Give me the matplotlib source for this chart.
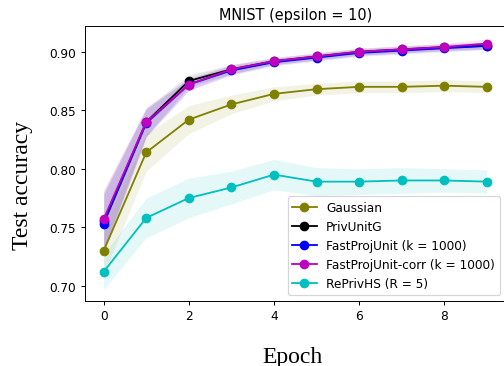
import matplotlib
matplotlib.use("Agg")
import matplotlib.pyplot as plt

# epochs
epochs = [0, 1, 2, 3, 4, 5, 6, 7, 8, 9]

# mean test accuracy per method
gaussian = [0.730, 0.814, 0.842, 0.855, 0.864, 0.868, 0.870, 0.870, 0.871, 0.870]
privunitg = [0.755, 0.840, 0.875, 0.885, 0.892, 0.896, 0.900, 0.902, 0.904, 0.905]
fastproj = [0.753, 0.839, 0.872, 0.884, 0.891, 0.895, 0.899, 0.901, 0.903, 0.905]
fastproj_corr = [0.757, 0.840, 0.872, 0.885, 0.892, 0.896, 0.900, 0.902, 0.904, 0.907]
reprivhs = [0.712, 0.758, 0.775, 0.784, 0.795, 0.789, 0.789, 0.790, 0.790, 0.789]

# spread (std) per method
gaussian_std = [0.020, 0.016, 0.012, 0.008, 0.006, 0.005, 0.005, 0.005, 0.005, 0.005]
privunitg_std = [0.025, 0.012, 0.005, 0.004, 0.003, 0.003, 0.003, 0.003, 0.003, 0.003]
fastproj_std = [0.025, 0.012, 0.005, 0.004, 0.003, 0.003, 0.003, 0.003, 0.003, 0.003]
fastproj_corr_std = [0.025, 0.012, 0.005, 0.004, 0.003, 0.003, 0.003, 0.003, 0.003, 0.004]
reprivhs_std = [0.015, 0.017, 0.017, 0.014, 0.013, 0.012, 0.011, 0.011, 0.010, 0.010]

series = [
    ("Gaussian", gaussian, gaussian_std, "olive"),
    ("PrivUnitG", privunitg, privunitg_std, "k"),
    ("FastProjUnit (k = 1000)", fastproj, fastproj_std, "b"),
    ("FastProjUnit-corr (k = 1000)", fastproj_corr, fastproj_corr_std, "m"),
    ("RePrivHS (R = 5)", reprivhs, reprivhs_std, "c"),
]

dpi = 87
fig = plt.figure(figsize=(504 / dpi, 367 / dpi), dpi=dpi)
ax = fig.add_axes([84.5 / 504, 1 - 302 / 367, 421.5 / 504, 275 / 367])

for name, mean, std, color in series:
    lo = [m - s for m, s in zip(mean, std)]
    hi = [m + s for m, s in zip(mean, std)]
    ax.fill_between(epochs, lo, hi, color=color, alpha=0.1, linewidth=0)
    ax.plot(epochs, mean, "o-", color=color, label=name, markersize=7)

ax.set_xlim(-0.45, 9.45)
ax.set_ylim(0.687, 0.922)
ax.set_xticks([0, 2, 4, 6, 8])
ax.set_yticks([0.70, 0.75, 0.80, 0.85, 0.90])

ax.set_title("MNIST (epsilon = 10)")
ax.set_xlabel("Epoch", fontfamily="Liberation Serif", fontsize=19.5)
ax.set_ylabel("Test accuracy", fontfamily="Liberation Serif", fontsize=19.5)
ax.xaxis.set_label_coords(0.494, -0.165)
ax.yaxis.set_label_coords(-0.122, 0.425)

ax.legend(loc="lower right")

fig.savefig("out.png", dpi=dpi)
